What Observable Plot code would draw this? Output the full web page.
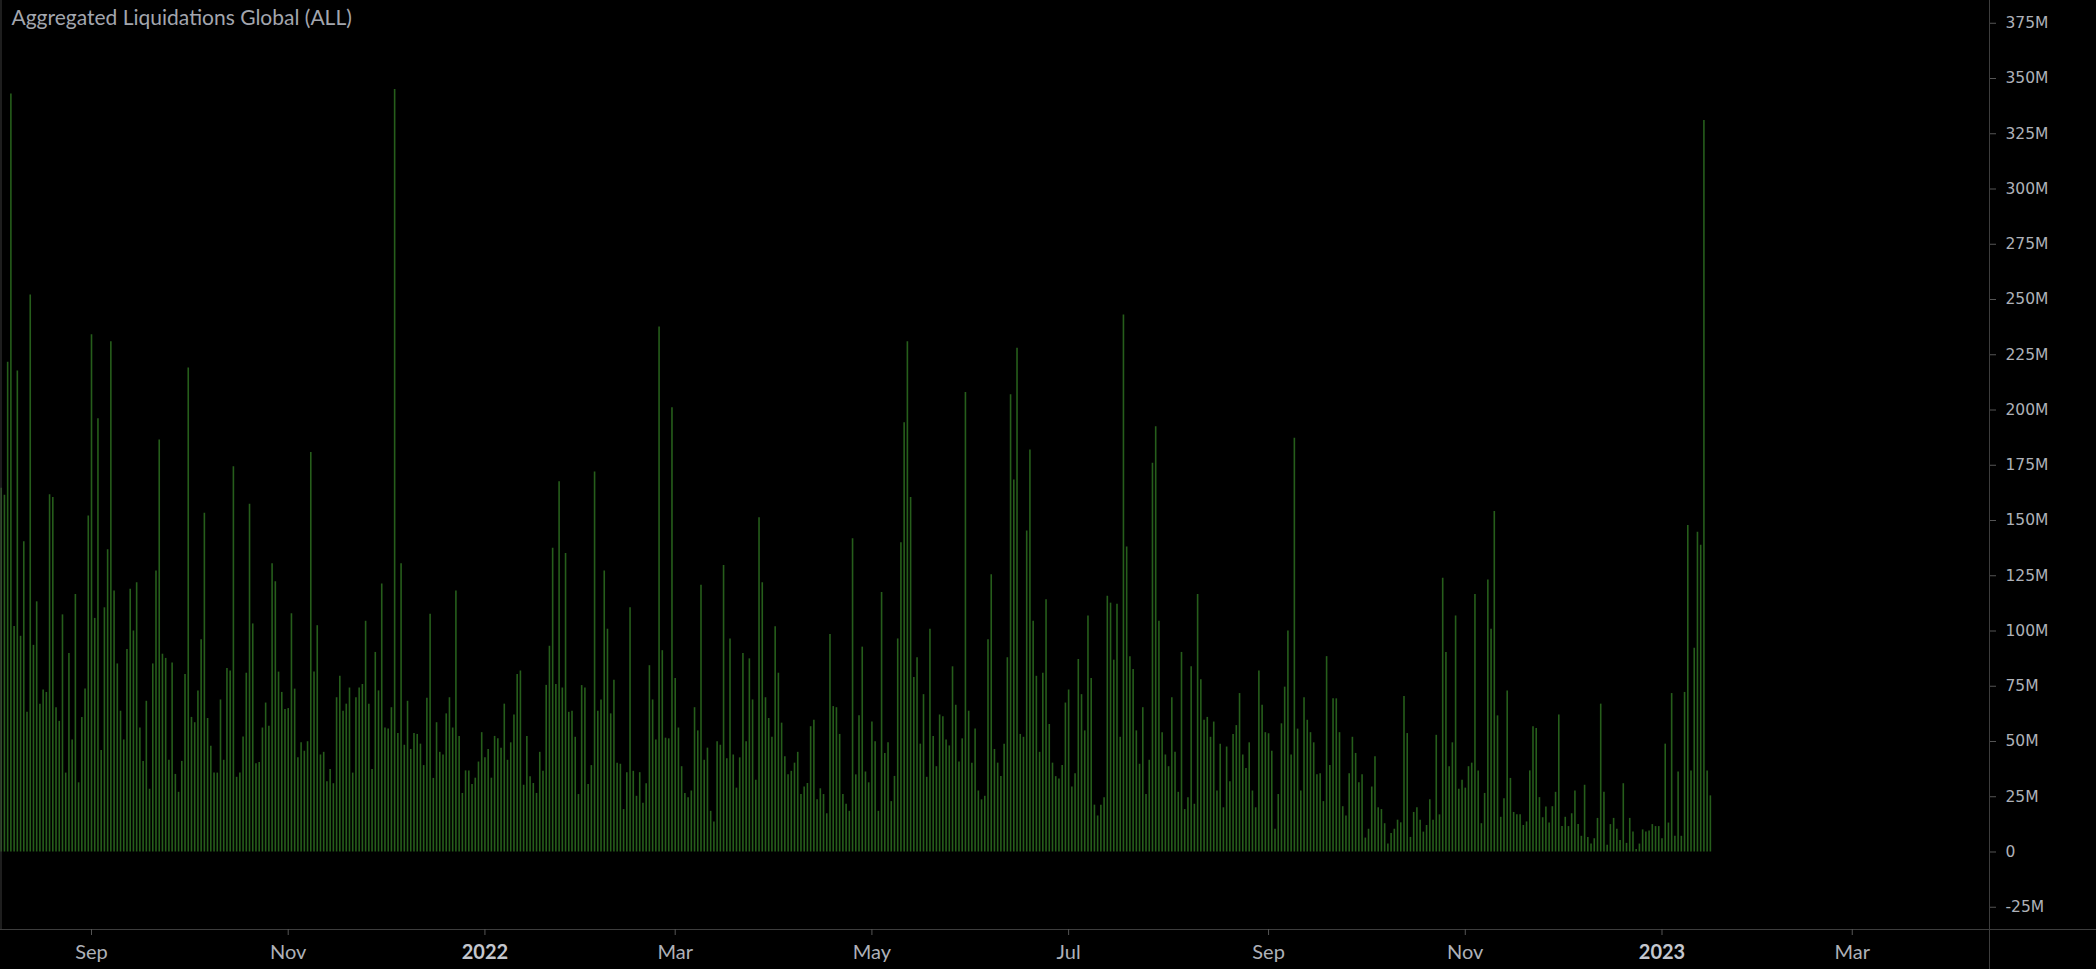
<!DOCTYPE html>
<html>
<head>
<meta charset="utf-8">
<script src="https://cdn.jsdelivr.net/npm/d3@7"></script>
<script src="https://cdn.jsdelivr.net/npm/@observablehq/plot@0.6"></script>
<style>
html,body{margin:0;padding:0;background:#000;overflow:hidden}
#chart svg{display:block}
</style>
</head>
<body>
<div id="chart"></div>
<script>
// ---- Text ----
const title = "Aggregated Liquidations Global (ALL)";

// ---- Data: daily aggregated liquidations, in millions of USD ----
const firstDay = "2021-08-04";
const aug2021 = [164.6,161.4,221.6,343,102,217.6,97.6,140.4,63.2,252,93.5,113.2,66.9,73.3,72.2,161.7,160.4,65.3,59.1,107.3,35.7,89.8,50.7,116.5,31.3,60.9,73.7,152];
const sep2021 = [234,105.7,196,45.9,110.5,136.8,230.9,118.1,85.1,63.7,50.7,91.6,118.9,100,121.8,56.1,41,68.2,28.4,85.1,127.1,186.4,89.5,87.6,41.5,85.5,35.1,27,41,80.3];
const oct2021 = [219,60.9,58.5,72.9,96,153.3,60.4,47.8,35.7,35.7,68.8,41.5,83,81.9,174.3,33.8,35.7,52,80.9,157.4,103.2,39.9,40.5,56.1,67.4,56.9,130.4,122.3,81.4,72.2,64.5];
const nov2021 = [64.9,107.8,73.7,42.6,49.4,45.6,49.9,180.8,81.4,102.4,43.9,45.1,31.8,37.3,30.9,69.8,79.5,63.7,66.9,74.2,35.7,69.8,74.2,75.8,104.4,66.9,37.3,90.3,72.9,121.3];
const dec2021 = [56.1,55.6,65.3,345,53.6,130.4,48.3,68.2,46.4,53.6,53.2,48.8,39.1,69.6,107.6,33.3,58.5,45.1,43.9,62.5,69.8,56.1,118.1,52.3,26.5,36.7,36.7,30.5,33.4,40.7,54];
const jan2022 = [42.6,46.4,33.4,52.3,51.2,47,66.9,41.5,49.4,62,80.3,81.9,30.2,52.3,34.1,31,26.5,45.1,36.5,75.4,93.1,137.5,75.8,167.5,74.2,135.1,63.2,63.7,51.9,26,75.3];
const feb2022 = [74.2,30.5,39.1,171.9,63.7,68.8,127.1,100.8,62.5,77.7,40.2,39.7,19.2,35.9,110.5,36.5,25.2,35.9,22.1,30.9,84.3,68.8,50.7,237.6,91.1,51.5,51.2,201];
const mar2022 = [78.5,56.1,38.6,26.5,24.6,27.6,65.3,54.8,120.7,41.5,47,18.4,13.6,49.9,48.3,129.6,42.2,96.4,43.9,28.9,42.6,89.8,49.9,87.4,68.8,32.5,151.2,121.8,69.8,60.4,51.9];
const apr2022 = [101.9,80.9,58.3,43.1,34.9,36.5,40.2,45.1,26,29.4,31,56.7,59.6,23.6,28.6,26,17.3,98.4,65.8,65.3,53.2,26,21.6,18.4,141.7,34.9,61.6,92.7,36.2,31.3];
const may2022 = [58.8,49.9,18.4,117.4,44.6,49.4,22.8,34.2,96.4,139.9,194.2,230.9,160.4,79,87.9,48.8,71.2,33.8,100.8,52.3,38.6,62,61.2,50.7,48,83.8,66.4,40.7,51.2,207.9,63.7];
const jun2022 = [40.2,55.6,27.6,23.6,25.2,96,125.4,46.4,40.2,34.2,48.8,87.9,206.9,168.3,228,53.2,51.9,145.2,181.9,104.4,79.5,45.1,80.9,114.1,57.7,40.2,34.1,33,39.1,67.4];
const jul2022 = [73.3,29.4,35.4,87.1,71.2,54.8,106.8,78.5,21.2,16.3,21.2,24.6,115.7,112.6,86.8,112.1,51.9,243,138,88.4,82.6,54.8,39.7,65.3,26,41.5,175.9,192.4,104.4,54,43.9];
const aug2022 = [38.6,69.8,45.1,27,90.3,19.2,24.6,83.8,21.6,116.5,77.9,59.6,60.9,51.9,58.8,27.6,48.8,20,47.5,31.8,53.2,57.2,71.7,43.9,37.8,49.4,27.6,20,81.9,66.4,54];
const sep2022 = [53.5,45.6,10.3,26,58,74.6,100,43.9,187.2,55.6,27.6,69.8,59.6,54,49.4,34.9,35.4,22.8,88.4,39.1,69.3,69.3,54,20.5,16.3,35.4,51.9,44.6,31.3,34.9];
const oct2022 = [6.3,10.3,29.4,43.1,20,19.2,12.8,3.6,8.4,10.3,14.4,13.2,70.4,53.6,6.6,17.9,20,14.4,9,12,23.6,14.4,52.8,16.8,123.9,90.3,38.6,49.4,106.8,28.4,32.5];
const nov2022 = [28.9,38.6,40.2,116.5,36.7,12.8,26.5,123.1,100.8,154.1,61.6,15.7,24.1,72.9,33.3,17.9,16.8,16.8,12,13.6,36.7,56.7,55.9,24.6,15.5,20.4,13.1,20.5,27,62];
const dec2022 = [11.5,15.7,11.5,17.3,27.6,12.4,7.1,30.2,6.6,3.6,6,15.2,66.9,27,3.1,12.4,15.2,10.3,5.2,30.9,3.9,15.2,9,1.1,3.6,10,9,9.5,12.4,11.5,11.5];
const jan2023 = [6,48.8,13.1,71.7,7.1,36.2,7.1,72.2,147.7,36.7,92.2,144.7,138.8,331,36.7,25.4];

// ---- Axis ticks ----
const yTickValues = [-25,0,25,50,75,100,125,150,175,200,225,250,275,300,325,350,375]; // millions
const monthTicks = ["2021-09-01","2021-11-01","2022-03-01","2022-05-01","2022-07-01","2022-09-01","2022-11-01","2023-03-01"];
const yearTicks = ["2022-01-01","2023-01-01"];

// ---- Build table ----
const series = [aug2021,sep2021,oct2021,nov2021,dec2021,jan2022,feb2022,mar2022,apr2022,may2022,jun2022,jul2022,aug2022,sep2022,oct2022,nov2022,dec2022,jan2023].flat();
const start = new Date(firstDay + "T00:00:00Z");
const data = series.map((v, i) => ({date: d3.utcDay.offset(start, i), value: v * 1e6}));

const DAY = 864e5;
const sep1 = new Date("2021-09-01T00:00:00Z");
const jan1 = new Date("2023-01-01T00:00:00Z");
const xDomain = [new Date(+sep1 - 28.22 * DAY), new Date(+jan1 + 101.56 * DAY)];
const yDomain = [-35.07e6, 385.3e6];

const lineColor = "#3d3d3d";
const barColor = "#265e1b";
const labelColor = "#aeb1b8";

const chart = Plot.plot({
  width: 2096,
  height: 969,
  marginLeft: 0,
  marginRight: 107,
  marginTop: 0,
  marginBottom: 40,
  style: {background: "#000", color: labelColor, fontFamily: "Lato"},
  x: {type: "utc", domain: xDomain},
  y: {type: "linear", domain: yDomain},
  marks: [
    Plot.ruleX(data, {x: "date", y1: 0, y2: "value", stroke: barColor, strokeWidth: 1.6}),
    // panel separators
    Plot.ruleX([xDomain[0]], {y1: yDomain[0], y2: yDomain[1], stroke: lineColor, dx: 0.5}),
    Plot.ruleX([xDomain[1]], {y1: yDomain[0] - 40e6, y2: yDomain[1], stroke: lineColor}),
    Plot.ruleY([yDomain[0]], {x1: xDomain[0], x2: new Date(+xDomain[1] + 60 * DAY), stroke: lineColor}),
    Plot.axisY(yTickValues.map(v => v * 1e6), {
      anchor: "right", label: null, tickSize: 6, tickPadding: 10,
      tickFormat: v => v === 0 ? "0" : `${v / 1e6}M`,
      fontSize: 15.5, fontFamily: "DejaVu Sans", fill: labelColor, stroke: "#555"
    }),
    Plot.axisX(monthTicks.map(d => new Date(d + "T00:00:00Z")), {
      anchor: "bottom", label: null, tickSize: 6, tickPadding: 9,
      tickFormat: d3.utcFormat("%b"),
      fontSize: 20, fontFamily: "Lato", fill: labelColor, stroke: "#555"
    }),
    Plot.axisX(yearTicks.map(d => new Date(d + "T00:00:00Z")), {
      anchor: "bottom", label: null, tickSize: 6, tickPadding: 9,
      tickFormat: d3.utcFormat("%Y"),
      fontSize: 20, fontFamily: "Lato", fontWeight: "bold", fill: "#c4c7ce", stroke: "#555"
    }),
    Plot.text([title], {
      frameAnchor: "top-left", text: d => d, dx: 11, dy: 10,
      textAnchor: "start", lineAnchor: "top",
      fontSize: 21, fontFamily: "Lato", fill: "#a3a6ae"
    })
  ]
});

document.getElementById("chart").appendChild(chart);
</script>
</body>
</html>
